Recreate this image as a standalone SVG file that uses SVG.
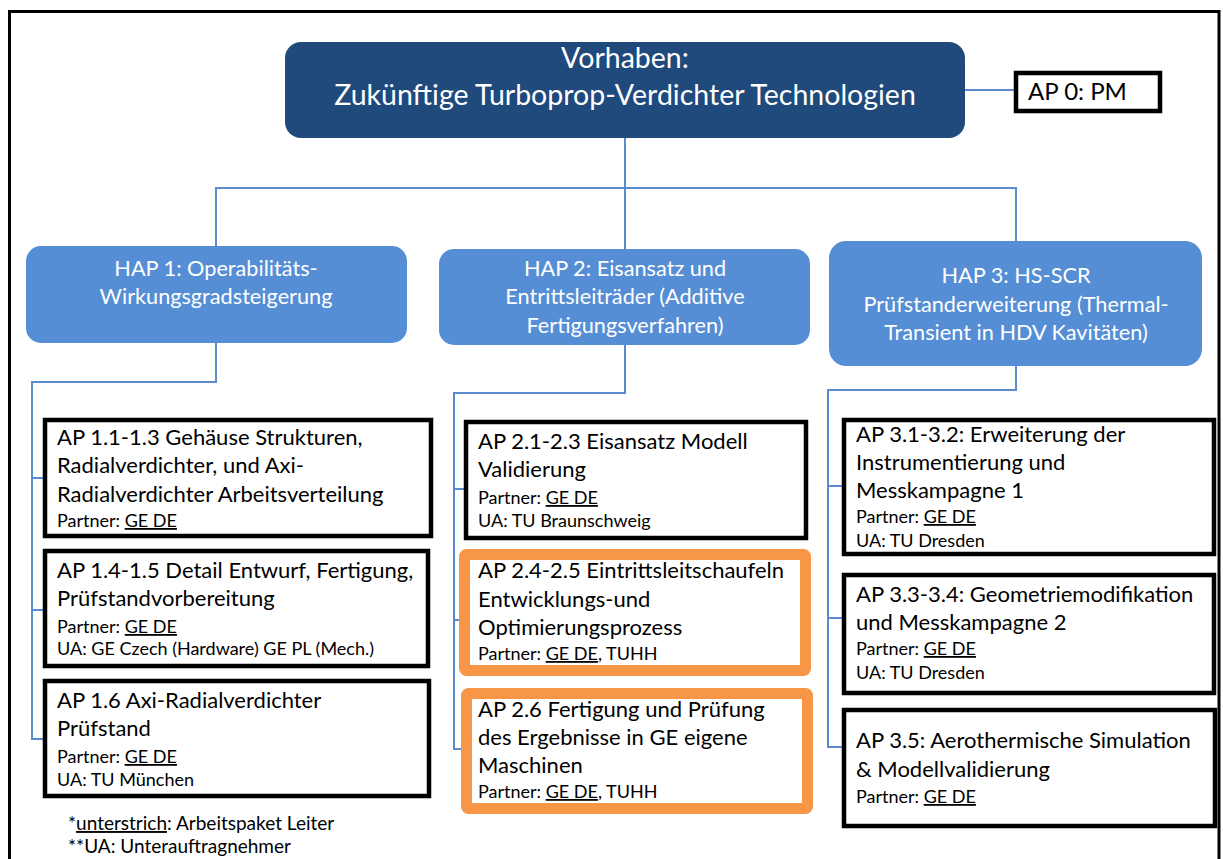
<svg xmlns="http://www.w3.org/2000/svg" width="1223" height="859" viewBox="0 0 1223 859">
<style>
text{font-family:Lato,"Liberation Sans",sans-serif}
.main{fill:#fff;font-size:28.5px;text-anchor:middle}
.hap{fill:#fff;font-size:21.7px;text-anchor:middle}
.t{fill:#000;font-size:22px}
.s{fill:#000;font-size:18px}
.lg{fill:#000;font-size:19px}
.u{text-decoration:underline}
.conn{stroke:#5A8AD0;stroke-width:2;fill:none}
.blk{fill:#fff;stroke:#000;stroke-width:4.5}
.org{fill:#fff;stroke:#F79646;stroke-width:11}
.hbox{fill:#558ED5}
</style>
<rect width="1223" height="859" fill="#fff"/>
<path d="M9.5,880 V11.5 H1219 V880" fill="none" stroke="#000" stroke-width="3"/>
<g id="connectors">
<path class="conn" d="M625,138 V249"/>
<path class="conn" d="M216,246 V188 H1016 V241"/>
<path class="conn" d="M965,90 H1014"/>
<path class="conn" d="M216,343 V382 H32 V739 H43 M32,478 H43 M32,610 H43"/>
<path class="conn" d="M625,345 V393 H454 V749 H461 M454,489 H464 M454,620 H459"/>
<path class="conn" d="M1016,366 V390 H828 V747 H842 M828,486 H842 M828,618 H842"/>
</g>
<g id="vorhaben">
<rect x="285" y="42" width="680" height="96" rx="16" fill="#20497C"/>
<text class="main" x="625" y="68">Vorhaben:</text>
<text class="main" x="625" y="105">Zukünftige Turboprop-Verdichter Technologien</text>
</g>
<g id="ap0">
<rect class="blk" x="1016" y="73" width="144" height="38"/>
<text x="1028" y="100" style="font-size:24px">AP 0: PM</text>
</g>
<g id="hap1">
<rect class="hbox" x="26" y="246" width="381" height="97" rx="15"/>
<text class="hap" x="216" y="276">HAP 1: Operabilitäts-</text>
<text class="hap" x="216" y="304">Wirkungsgradsteigerung</text>
</g>
<g id="hap2">
<rect class="hbox" x="439" y="249" width="371" height="96" rx="15"/>
<text class="hap" x="625" y="276">HAP 2: Eisansatz und</text>
<text class="hap" x="625" y="304">Entrittsleiträder (Additive</text>
<text class="hap" x="625" y="333">Fertigungsverfahren)</text>
</g>
<g id="hap3">
<rect class="hbox" x="829" y="241" width="373" height="125" rx="17"/>
<text class="hap" x="1016" y="283">HAP 3: HS-SCR</text>
<text class="hap" x="1016" y="312">Prüfstanderweiterung (Thermal-</text>
<text class="hap" x="1016" y="340">Transient in HDV Kavitäten)</text>
</g>
<g id="ap11">
<rect class="blk" x="45" y="420" width="386" height="116"/>
<text class="t" x="57" y="445">AP 1.1-1.3 Gehäuse Strukturen,</text>
<text class="t" x="57" y="473">Radialverdichter, und Axi-</text>
<text class="t" x="57" y="502">Radialverdichter Arbeitsverteilung</text>
<text class="s" x="57" y="527">Partner: <tspan class="u">GE DE</tspan></text>
</g>
<g id="ap14">
<rect class="blk" x="45" y="551" width="383" height="115"/>
<text class="t" x="57" y="578">AP 1.4-1.5 Detail Entwurf, Fertigung,</text>
<text class="t" x="57" y="606">Prüfstandvorbereitung</text>
<text class="s" x="57" y="633">Partner: <tspan class="u">GE DE</tspan></text>
<text class="s" x="57" y="655">UA: GE Czech (Hardware) GE PL (Mech.)</text>
</g>
<g id="ap16">
<rect class="blk" x="45" y="681" width="384" height="115"/>
<text class="t" x="57" y="708">AP 1.6 Axi-Radialverdichter</text>
<text class="t" x="57" y="736">Prüfstand</text>
<text class="s" x="57" y="763">Partner: <tspan class="u">GE DE</tspan></text>
<text class="s" x="57" y="786">UA: TU München</text>
</g>
<g id="ap21">
<rect class="blk" x="466" y="422" width="340" height="116"/>
<text class="t" x="478" y="449">AP 2.1-2.3 Eisansatz Modell</text>
<text class="t" x="478" y="477">Validierung</text>
<text class="s" x="478" y="504">Partner: <tspan class="u">GE DE</tspan></text>
<text class="s" x="478" y="527">UA: TU Braunschweig</text>
</g>
<g id="ap24">
<rect class="org" x="464.5" y="554.5" width="341" height="116" rx="2"/>
<text class="t" x="478" y="578">AP 2.4-2.5 Eintrittsleitschaufeln</text>
<text class="t" x="478" y="607">Entwicklungs-und</text>
<text class="t" x="478" y="635">Optimierungsprozess</text>
<text class="s" x="478" y="660">Partner: <tspan class="u">GE DE</tspan>, TUHH</text>
</g>
<g id="ap26">
<rect class="org" x="466.5" y="693.5" width="341" height="115" rx="2"/>
<text class="t" x="478" y="717">AP 2.6 Fertigung und Prüfung</text>
<text class="t" x="478" y="745">des Ergebnisse in GE eigene</text>
<text class="t" x="478" y="773">Maschinen</text>
<text class="s" x="478" y="798">Partner: <tspan class="u">GE DE</tspan>, TUHH</text>
</g>
<g id="ap31">
<rect class="blk" x="844" y="420" width="370" height="134"/>
<text class="t" x="856" y="442">AP 3.1-3.2: Erweiterung der</text>
<text class="t" x="856" y="470">Instrumentierung und</text>
<text class="t" x="856" y="498">Messkampagne 1</text>
<text class="s" x="856" y="523">Partner: <tspan class="u">GE DE</tspan></text>
<text class="s" x="856" y="547">UA: TU Dresden</text>
</g>
<g id="ap33">
<rect class="blk" x="844" y="575" width="370" height="118"/>
<text class="t" x="856" y="602">AP 3.3-3.4: Geometriemodifikation</text>
<text class="t" x="856" y="630">und Messkampagne 2</text>
<text class="s" x="856" y="655">Partner: <tspan class="u">GE DE</tspan></text>
<text class="s" x="856" y="679">UA: TU Dresden</text>
</g>
<g id="ap35">
<rect class="blk" x="844" y="710" width="371" height="116"/>
<text class="t" x="856" y="748">AP 3.5: Aerothermische Simulation</text>
<text class="t" x="856" y="777">&amp; Modellvalidierung</text>
<text class="s" x="856" y="803">Partner: <tspan class="u">GE DE</tspan></text>
</g>
<g id="legend">
<text class="lg" x="68" y="830">*<tspan class="u">unterstrich</tspan>: Arbeitspaket Leiter</text>
<text class="lg" x="68" y="853">**UA: Unterauftragnehmer</text>
</g>
</svg>
